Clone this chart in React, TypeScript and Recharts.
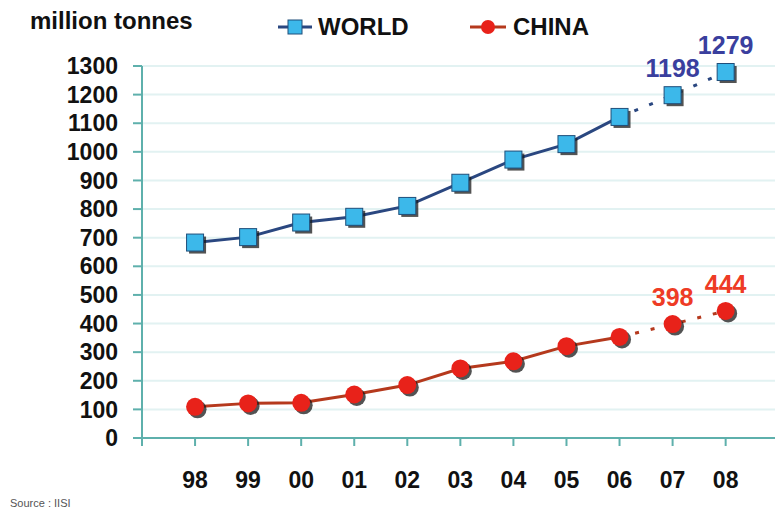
import { CartesianGrid, LabelList, Line, LineChart, XAxis, YAxis } from "recharts";

const years = ["98", "99", "00", "01", "02", "03", "04", "05", "06", "07", "08"];
const world = [683, 702, 753, 773, 811, 892, 973, 1027, 1122, 1198, 1279];
const china = [109, 121, 123, 152, 185, 243, 268, 321, 353, 398, 444];
const lastActual = 8; // 06 is the last actual year, 07/08 are dotted
const yTicks = [0, 100, 200, 300, 400, 500, 600, 700, 800, 900, 1000, 1100, 1200, 1300];
const xTicks = [-1, 0, 1, 2, 3, 4, 5, 6, 7, 8, 9, 10];

const WORLD_LINE = "#2a4780";
const WORLD_FILL = "#3cb8ea";
const CHINA_LINE = "#b5391d";
const CHINA_FILL = "#e8221a";
const AXIS = "#5eb0ac";
const FONT = "'Liberation Sans', Arial, sans-serif";

const rows = years.map((label, i) => ({
  x: i,
  label,
  worldSolid: i <= lastActual ? world[i] : null,
  worldDash: i >= lastActual ? world[i] : null,
  chinaSolid: i <= lastActual ? china[i] : null,
  chinaDash: i >= lastActual ? china[i] : null,
}));

function SquareDot(props: any) {
  const { cx, cy, value, index } = props;
  if (value == null || cx == null) return <g key={index} />;
  const s = 17;
  return (
    <g key={index}>
      <rect x={cx - s / 2 + 2.5} y={cy - s / 2 + 2.5} width={s} height={s} fill="#1a1a1a" opacity={0.75} />
      <rect x={cx - s / 2} y={cy - s / 2} width={s} height={s} fill={WORLD_FILL} stroke="#1f4e7a" strokeWidth={1} />
    </g>
  );
}

function RoundDot(props: any) {
  const { cx, cy, value, index } = props;
  if (value == null || cx == null) return <g key={index} />;
  return (
    <g key={index}>
      <circle cx={cx + 2.5} cy={cy + 2.5} r={9} fill="#1a1a1a" opacity={0.75} />
      <circle cx={cx} cy={cy} r={9} fill={CHINA_FILL} />
    </g>
  );
}

const dashDot = (Dot: any) => (props: any) =>
  props.index <= lastActual ? <g key={props.index} /> : <Dot {...props} />;

const valueLabel = (color: string) => (props: any) => {
  const { x, y, value, index } = props;
  if (index <= lastActual || value == null) return null;
  return (
    <text
      x={x}
      y={y - 27}
      textAnchor="middle"
      dominantBaseline="central"
      fill={color}
      fontSize={25}
      fontWeight="bold"
      fontFamily={FONT}
    >
      {value}
    </text>
  );
};

export default function App() {
  return (
    <div style={{ position: "relative", width: 775, height: 513, background: "#fff", fontFamily: FONT }}>
      <style>{`body { margin: 0; }`}</style>
      <LineChart width={775} height={513} data={rows} margin={{ top: 66, right: 0, left: 0, bottom: 15 }}>
        <CartesianGrid stroke="#e2f2f2" strokeWidth={2} vertical={false} />
        <XAxis
          dataKey="x"
          type="number"
          domain={[-1, 10.93]}
          ticks={xTicks}
          interval={0}
          allowDataOverflow
          height={60}
          tickFormatter={(v) => (v >= 0 ? years[v] : "")}
          stroke={AXIS}
          strokeWidth={2}
          tickSize={8}
          tickMargin={26}
          tick={{ fill: "#111", fontSize: 23, fontWeight: "bold", fontFamily: FONT }}
        />
        <YAxis
          domain={[0, 1300]}
          ticks={yTicks}
          interval={0}
          width={142}
          stroke={AXIS}
          strokeWidth={2}
          tickSize={9}
          tickMargin={15}
          tick={{ fill: "#111", fontSize: 23, fontWeight: "bold", fontFamily: FONT }}
        />
        <Line
          dataKey="worldSolid"
          stroke={WORLD_LINE}
          strokeWidth={3}
          dot={SquareDot}
          connectNulls={false}
          isAnimationActive={false}
        />
        <Line
          dataKey="worldDash"
          stroke={WORLD_LINE}
          strokeWidth={3}
          strokeDasharray="4 12"
          dot={dashDot(SquareDot)}
          isAnimationActive={false}
        >
          <LabelList dataKey="worldDash" content={valueLabel("#3a3f9e")} />
        </Line>
        <Line
          dataKey="chinaSolid"
          stroke={CHINA_LINE}
          strokeWidth={3}
          dot={RoundDot}
          connectNulls={false}
          isAnimationActive={false}
        />
        <Line
          dataKey="chinaDash"
          stroke={CHINA_LINE}
          strokeWidth={3}
          strokeDasharray="4 12"
          dot={dashDot(RoundDot)}
          isAnimationActive={false}
        >
          <LabelList dataKey="chinaDash" content={valueLabel("#ee3b25")} />
        </Line>
      </LineChart>

      <div style={{ position: "absolute", left: 30, top: 7, fontSize: 24, fontWeight: "bold", color: "#111" }}>
        million tonnes
      </div>

      <div style={{ position: "absolute", left: 276, top: 12, display: "flex", alignItems: "center" }}>
        <svg width={38} height={30}>
          <line x1={2} y1={15} x2={36} y2={15} stroke={WORLD_LINE} strokeWidth={3} />
          <rect x={12} y={8} width={14} height={14} fill={WORLD_FILL} stroke="#1f4e7a" />
        </svg>
        <span style={{ fontSize: 24, fontWeight: "bold", color: "#111", marginLeft: 4 }}>WORLD</span>
      </div>

      <div style={{ position: "absolute", left: 468, top: 12, display: "flex", alignItems: "center" }}>
        <svg width={40} height={30}>
          <line x1={2} y1={15} x2={38} y2={15} stroke={CHINA_LINE} strokeWidth={3} />
          <circle cx={20} cy={15} r={7} fill={CHINA_FILL} />
        </svg>
        <span style={{ fontSize: 24, fontWeight: "bold", color: "#111", marginLeft: 5 }}>CHINA</span>
      </div>

      <div style={{ position: "absolute", left: 10, top: 497, fontSize: 11, color: "#555" }}>Source : IISI</div>
    </div>
  );
}
